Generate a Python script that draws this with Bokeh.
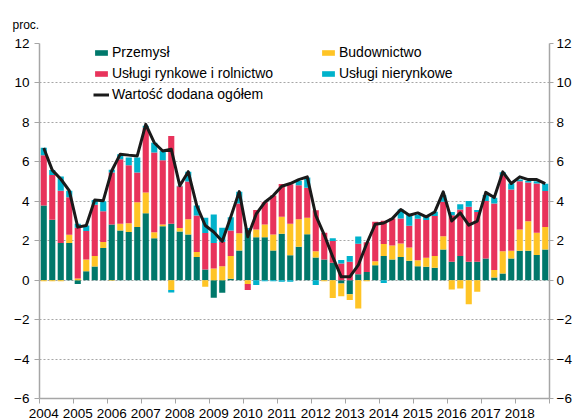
from bokeh.plotting import figure
from bokeh.models import (ColumnDataSource, FixedTicker, LinearAxis, Legend,
                          LegendItem, Range1d, Title)
from bokeh.embed import file_html
from bokeh.resources import INLINE

years = [str(y) for y in range(2004, 2019)]
quarter_idx = list(range(60))

przemysl = [3.78, 3.06, 1.88, 1.88, -0.20, 0.45, 0.69, 1.63, 2.82, 2.52,
            2.44, 2.69, 3.39, 2.13, 2.74, 2.86, 2.47, 2.32, 1.18, 0.54,
            -0.89, -0.64, 0.07, 1.51, 2.55, 2.18, 2.18, 1.51, 2.35, 1.26,
            1.69, 2.33, 1.15, 1.05, 0.88, -0.17, -0.71, 0.30, 0.42, 0.76,
            1.22, 1.05, 1.18, 0.98, 0.71, 0.68, 0.63, 1.55, 0.93, 1.22,
            0.93, 0.93, 1.10, 0.14, 0.34, 1.10, 1.49, 1.49, 1.27, 1.55]
budownictwo = [-0.05, -0.05, -0.05, 0.42, 0.08, 0.60, 0.54, 0.30, -0.03, 0.34,
               0.45, 1.26, 1.06, 0.30, 0.08, -0.50, 0.18, 0.77, 0.25, -0.34,
               0.59, 0.71, 1.16, 0.87, -0.20, 0.39, 0.64, 0.81, 0.87, 1.60,
               1.40, 0.84, 0.32, -0.05, -0.90, -0.64, -0.30, -1.44, -0.05, 0.20,
               0.61, 0.71, 0.68, 0.68, 0.30, 0.46, 0.59, 0.68, -0.47, -0.42,
               -1.22, -0.59, 0.00, 0.37, 1.13, 0.39, 1.08, 1.50, 1.13, 1.15]
uslugi_rynkowe = [2.56, 2.27, 2.66, 1.90, 2.58, 1.44, 2.60, 1.57, 2.64, 3.27,
                  2.94, 1.51, 3.28, 4.04, 3.26, 4.45, 2.11, 1.91, 1.85, 1.85,
                  1.29, 1.23, 1.29, 1.51, -0.30, 0.99, 1.13, 1.97, 1.65, 2.00,
                  1.72, 1.52, 2.08, 1.35, 1.10, 0.85, 0.93, 1.55, 1.50, 2.00,
                  1.18, 1.37, 1.27, 1.10, 2.11, 1.91, 2.03, 1.74, 2.36, 2.36,
                  2.79, 2.53, 2.92, 3.38, 3.85, 3.11, 2.45, 1.96, 2.50, 1.82]
uslugi_nierynkowe = [0.38, 0.25, 0.72, 0.34, 0.20, 0.28, 0.24, 0.50, 0.14, 0.26,
                     0.39, 0.76, 0.10, 0.50, 0.47, -0.13, 0.03, 0.50, 0.50, 0.77,
                     1.45, 0.72, 0.67, 0.59, 0.10, -0.25, -0.05, -0.05, -0.08, -0.08,
                     0.22, 0.51, -0.25, 0.00, 0.14, 0.17, 0.29, 0.37, 0.00, 0.00,
                     -0.14, 0.00, 0.45, 0.54, 0.20, 0.15, 0.22, 0.34, 0.17, 0.27,
                     0.30, 0.10, 0.30, 0.29, 0.15, 0.30, 0.08, 0.08, 0.12, 0.37]
ogolem = [6.70, 5.58, 5.13, 4.54, 2.69, 2.77, 4.07, 4.03, 5.55, 6.39,
          6.34, 6.30, 7.90, 6.97, 6.55, 6.64, 4.79, 5.50, 3.78, 2.77,
          2.44, 1.97, 3.20, 4.49, 2.20, 3.36, 3.95, 4.29, 4.76, 4.90,
          5.10, 5.24, 3.29, 2.30, 1.18, 0.17, 0.17, 0.76, 1.86, 2.84,
          2.90, 3.12, 3.58, 3.29, 3.41, 3.21, 3.46, 4.48, 3.00, 3.41,
          2.79, 2.99, 4.45, 4.19, 5.49, 4.90, 5.24, 5.10, 5.10, 4.90]

names = ["Przemysł", "Budownictwo", "Usługi rynkowe i rolnictwo", "Usługi nierynkowe"]
series = [przemysl, budownictwo, uslugi_rynkowe, uslugi_nierynkowe]
colors = ["#00786B", "#FFC425", "#E8335B", "#00B2CB"]
total_name = "Wartość dodana ogółem"
unit_label = "proc."

FONT = "Liberation Sans"
FS = "13.5px"
LFS = "14px"

p = figure(width=576, height=420, x_range=Range1d(-0.5, 59.5), y_range=Range1d(-6, 12),
           output_backend="svg", toolbar_location=None,
           min_border_left=39, min_border_right=27, min_border_top=43, min_border_bottom=22)
p.outline_line_color = None
p.background_fill_color = "white"

# stacked bars (positives up, negatives down)
pos = [0.0] * 60
neg = [0.0] * 60
renderers = []
for vals, col in zip(series, colors):
    bottoms, tops = [], []
    for i, v in enumerate(vals):
        if v >= 0:
            bottoms.append(pos[i]); tops.append(pos[i] + v); pos[i] += v
        else:
            tops.append(neg[i]); bottoms.append(neg[i] + v); neg[i] += v
    src = ColumnDataSource(dict(x=quarter_idx, bottom=bottoms, top=tops))
    r = p.vbar(x="x", bottom="bottom", top="top", width=0.72, source=src,
               fill_color=col, line_color=None)
    renderers.append(r)

lr = p.line(quarter_idx, ogolem, line_color="#1a1a1a", line_width=3, line_join="round")

# axes
ax_col = "#a6a6a6"
p.xaxis.ticker = FixedTicker(ticks=list(range(0, 60, 4)), minor_ticks=[x - 0.5 for x in range(0, 61, 4)])
p.xaxis.major_label_overrides = {i * 4: years[i] for i in range(15)}
p.xaxis.major_tick_line_color = None
p.xaxis.major_tick_out = 0
p.xaxis.major_tick_in = 0
p.xaxis.minor_tick_out = 5
p.xaxis.minor_tick_in = 0
p.xaxis.minor_tick_line_color = ax_col
p.xaxis.axis_line_color = ax_col
p.xaxis.axis_line_width = 1.5
p.xaxis.major_label_standoff = 5
p.xaxis.major_label_text_font = FONT
p.xaxis.major_label_text_font_size = FS
p.xaxis.major_label_text_color = "#000000"

yt = list(range(-6, 13, 2))
for ax, side in [(p.yaxis[0], "left"), (LinearAxis(), "right")]:
    ax.ticker = FixedTicker(ticks=yt, minor_ticks=[])
    ax.major_tick_out = 5 if side == "left" else 4
    ax.major_tick_in = 0
    ax.minor_tick_out = 0
    ax.minor_tick_in = 0
    ax.major_tick_line_color = ax_col
    ax.axis_line_color = ax_col
    ax.axis_line_width = 1.5
    ax.major_label_standoff = 5 if side == "left" else 3
    ax.major_label_text_font = FONT
    ax.major_label_text_font_size = FS
    ax.major_label_text_color = "#000000"
    if side == "right":
        p.add_layout(ax, "right")

p.xgrid.visible = False
p.ygrid.ticker = FixedTicker(ticks=list(range(-4, 13, 2)))
p.ygrid.grid_line_color = "#a6a6a6"
p.ygrid.grid_line_dash = "2 2"
p.ygrid.grid_line_width = 1

p.add_layout(Title(text=unit_label, align="left", offset=-27, standoff=24,
                   text_font=FONT, text_font_size="12px", text_font_style="normal",
                   text_color="#000000"), "above")

def make_legend(items, loc):
    lg = Legend(items=items, location=loc, orientation="vertical",
                background_fill_alpha=0, border_line_color=None,
                padding=0, margin=0, spacing=5, glyph_width=16, glyph_height=7,
                label_height=7, label_standoff=3,
                label_text_font=FONT, label_text_font_size=LFS, label_text_color="#000000")
    return lg

leg1 = make_legend([LegendItem(label=names[0], renderers=[renderers[0]]),
                    LegendItem(label=names[2], renderers=[renderers[2]]),
                    LegendItem(label=total_name, renderers=[lr])], (54, 296))
leg2 = make_legend([LegendItem(label=names[1], renderers=[renderers[1]]),
                    LegendItem(label=names[3], renderers=[renderers[3]])], (281, 317))
p.add_layout(leg1)
p.add_layout(leg2)

open("out.html", "w").write(file_html(p, INLINE))
